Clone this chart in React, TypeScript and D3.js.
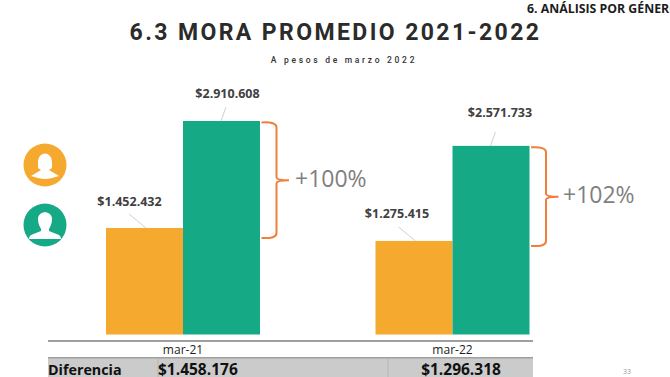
import React from "react";
import * as d3 from "d3";

const categories = ["mar-21", "mar-22"];
const mujeres = [1452432, 1275415];
const hombres = [2910608, 2571733];
const mujeresLabels = ["$1.452.432", "$1.275.415"];
const hombresLabels = ["$2.910.608", "$2.571.733"];
const diferencias = ["$1.458.176", "$1.296.318"];
const brechas = ["+100%", "+102%"];

const labelLayout = [
  { fx: -53.5, fy: -22, mx: 44.5, my: -23, px: 35 },
  { fx: -55.5, fy: -23, mx: 47.5, my: -29, px: 33.5 },
];

const ORANGE = "#f6a92f";
const GREEN = "#16a985";
const BRACE = "#f07f3c";
const SANS = "'Open Sans', 'Noto Sans', sans-serif";

const W = 670;
const H = 377;
const y = d3.scaleLinear().domain([0, 2910608]).range([334.5, 121]);
const centers = d3.scalePoint<string>().domain(categories).range([183, 452.5]);
const barW = 77;

function bracePath(x: number, top: number, bottom: number) {
  const m = (top + bottom) / 2;
  const xs = x + 15;
  return `M${x},${top} Q${xs},${top - 1} ${xs},${top + 5} L${xs},${m - 3} Q${xs},${m} ${xs + 12.5},${m} Q${xs},${m} ${xs},${m + 3} L${xs},${bottom - 5} Q${xs},${bottom + 1} ${x},${bottom}`;
}

function Person({ cx, cy, color, female }: { cx: number; cy: number; color: string; female: boolean }) {
  return (
    <g>
      <circle cx={cx} cy={cy} r={21.5} fill={color} />
      {female ? (
        <path
          fill="#fff"
          d={`M${cx - 7},${cy - 1} C${cx - 8},${cy - 15} ${cx + 8},${cy - 15} ${cx + 7},${cy - 1} L${cx + 7},${cy + 3} L${cx + 4},${cy + 5} L${cx + 14},${cy + 11} Q${cx + 5},${cy + 14} ${cx},${cy + 14} Q${cx - 5},${cy + 14} ${cx - 14},${cy + 11} L${cx - 4},${cy + 5} L${cx - 7},${cy + 3} Z`}
        />
      ) : (
        <path
          fill="#fff"
          d={`M${cx - 7},${cy - 6} C${cx - 7},${cy - 15} ${cx + 7},${cy - 15} ${cx + 7},${cy - 6} C${cx + 7},${cy - 1} ${cx + 5},${cy + 2} ${cx + 4},${cy + 4} L${cx + 4},${cy + 6} L${cx + 14},${cy + 10} Q${cx + 16},${cy + 11} ${cx + 16},${cy + 14} L${cx - 16},${cy + 14} Q${cx - 16},${cy + 11} ${cx - 14},${cy + 10} L${cx - 4},${cy + 6} L${cx - 4},${cy + 4} C${cx - 5},${cy + 2} ${cx - 7},${cy - 1} ${cx - 7},${cy - 6} Z`}
        />
      )}
    </g>
  );
}

export default function App() {
  return (
    <svg
      width={W}
      height={H}
      viewBox={`0 0 ${W} ${H}`}
      style={{ position: "fixed", left: 0, top: 0, background: "#fff", display: "block" }}
    >
      <text x={527} y={13} fontFamily={SANS} fontSize={12.3} fontWeight={700} fill="#1c1c1c">6. ANÁLISIS POR GÉNERO</text>
      <text x={335.5} y={40} textAnchor="middle" fontFamily="Roboto, sans-serif" fontSize={23} fontWeight={700} letterSpacing={2.4} fill="#2b2b2b">6.3 MORA PROMEDIO 2021-2022</text>
      <text x={344} y={63} textAnchor="middle" fontFamily="Roboto, sans-serif" fontSize={8.5} fontWeight={500} letterSpacing={2.7} fill="#333">A pesos de marzo 2022</text>

      <Person cx={45} cy={165} color={ORANGE} female />
      <Person cx={45} cy={225} color={GREEN} female={false} />

      {categories.map((c, i) => {
        const cx = centers(c) as number;
        const topF = y(mujeres[i]);
        const topM = y(hombres[i]);
        const braceBottom = topF + 10 - i * 5;
        const L = labelLayout[i];
        return (
          <g key={c}>
            <rect x={cx - barW} y={topF} width={barW} height={y(0) - topF} fill={ORANGE} />
            <rect x={cx} y={topM} width={barW} height={y(0) - topM} fill={GREEN} />
            <line x1={cx - 37} y1={topF} x2={cx - 54} y2={topF - 14} stroke="#c4c4c4" strokeWidth={0.8} />
            <line x1={cx + 38} y1={topM} x2={cx + 43} y2={topM - 14} stroke="#c4c4c4" strokeWidth={0.8} />
            <text x={cx + L.fx} y={topF + L.fy} textAnchor="middle" fontFamily={SANS} fontSize={12.5} fontWeight={700} fill="#404040">{mujeresLabels[i]}</text>
            <text x={cx + L.mx} y={topM + L.my} textAnchor="middle" fontFamily={SANS} fontSize={12.5} fontWeight={700} fill="#404040">{hombresLabels[i]}</text>
            <path d={bracePath(cx + barW + 1.5, topM + 1.5, braceBottom)} fill="none" stroke={BRACE} strokeWidth={2} />
            <text x={cx + barW + L.px} y={(topM + braceBottom) / 2 + 7.5} fontFamily={SANS} fontSize={23} fill="#7f7f7f">{brechas[i]}</text>
          </g>
        );
      })}

      <line x1={48} x2={533} y1={341} y2={341} stroke="#7f7f7f" strokeWidth={1.3} />
      <line x1={48} x2={533} y1={358} y2={358} stroke="#7f7f7f" strokeWidth={1.3} />
      <rect x={48} y={358.5} width={485} height={18.5} fill="#cbcbcb" />
      <line x1={158} x2={158} y1={358} y2={377} stroke="#b5b5b5" />
      <line x1={388} x2={388} y1={358} y2={377} stroke="#b5b5b5" />
      {categories.map((c) => (
        <text key={c} x={centers(c) as number} y={354} textAnchor="middle" fontFamily={SANS} fontSize={12} fill="#222">{c}</text>
      ))}
      <text x={48} y={375} fontFamily={SANS} fontSize={14.3} fontWeight={700} fill="#111">Diferencia</text>
      <text x={158} y={375} fontFamily={SANS} fontSize={15.5} fontWeight={700} fill="#111">{diferencias[0]}</text>
      <text x={461} y={375} textAnchor="middle" fontFamily={SANS} fontSize={15.5} fontWeight={700} fill="#111">{diferencias[1]}</text>
      <text x={627} y={374} textAnchor="middle" fontFamily={SANS} fontSize={7} fill="#999">33</text>
    </svg>
  );
}
